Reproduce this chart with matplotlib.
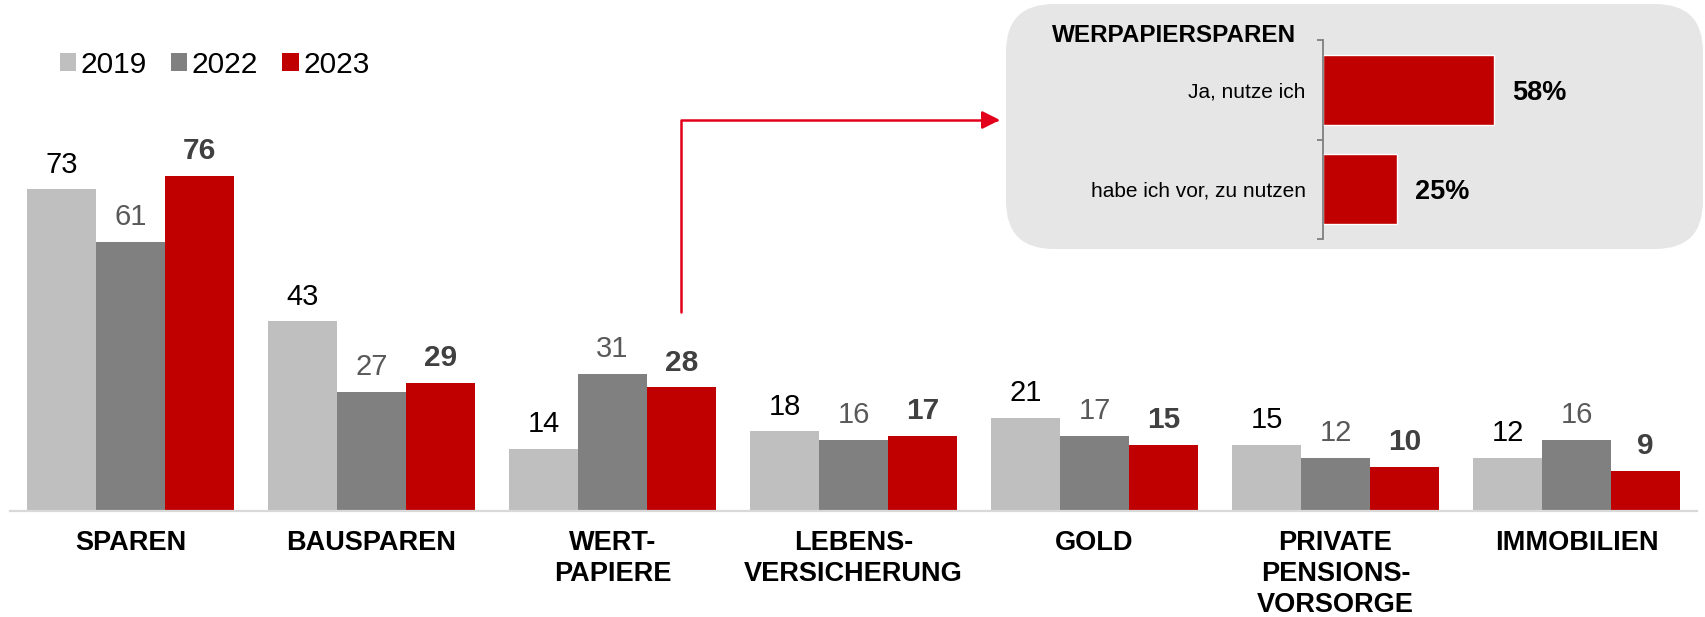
import matplotlib
matplotlib.use("Agg")
import matplotlib.pyplot as plt
from matplotlib.patches import FancyBboxPatch
import numpy as np

plt.rcParams['font.family'] = ['Liberation Sans', 'DejaVu Sans']

# ---- data ----
categories = ['SPAREN', 'BAUSPAREN', 'WERT-\nPAPIERE', 'LEBENS-\nVERSICHERUNG',
              'GOLD', 'PRIVATE\nPENSIONS-\nVORSORGE', 'IMMOBILIEN']
years = ['2019', '2022', '2023']
v2019 = [73, 43, 14, 18, 21, 15, 12]
v2022 = [61, 27, 31, 16, 17, 12, 16]
v2023 = [76, 29, 28, 17, 15, 10, 9]

inset_title = 'WERPAPIERSPAREN'
inset_labels = ['Ja, nutze ich', 'habe ich vor, zu nutzen']
inset_values = [58, 25]

# ---- styling ----
W, H = 1706, 617
colors = ['#bfbfbf', '#808080', '#c00000']
label_colors = ['#000000', '#595959', '#404040']
label_weights = ['normal', 'normal', 'bold']
label_sizes = [21, 21, 21.5]
arrow_red = '#e2001a'

fig = plt.figure(figsize=(W / 100, H / 100), dpi=100)


def rect(x0, y0, x1, y1):
    """pixel box (top-left origin) -> figure fraction rect"""
    return [x0 / W, 1 - y1 / H, (x1 - x0) / W, (y1 - y0) / H]


# ---- inset background box ----
bx0, by0, bx1, by1 = 1006, 4, 1703, 249
box = FancyBboxPatch((bx0 / W, 1 - by1 / H), (bx1 - bx0) / W, (by1 - by0) / H,
                     boxstyle='round,pad=0,rounding_size=0.028',
                     transform=fig.transFigure, facecolor='#e6e6e6',
                     edgecolor='none', zorder=-5, mutation_aspect=W / H)
fig.patches.append(box)

# ---- main axes ----
ax = fig.add_axes(rect(10, 70.5, 1697, 510.5))
x = np.arange(len(categories))
bw = 0.286
series = [v2019, v2022, v2023]
bars = []
for i, vals in enumerate(series):
    b = ax.bar(x + (i - 1) * bw, vals, width=bw, color=colors[i],
               label=years[i], zorder=2)
    bars.append(b)
    for xi, v in zip(x + (i - 1) * bw, vals):
        ax.annotate(str(v), (xi, v), xytext=(0, 12), textcoords='offset points',
                    ha='center', va='baseline', fontsize=label_sizes[i],
                    color=label_colors[i], fontweight=label_weights[i])

ax.set_xlim(-0.5, len(categories) - 0.5)
ax.set_ylim(0, 100)
for s in ['top', 'right', 'left']:
    ax.spines[s].set_visible(False)
ax.spines['bottom'].set_color('#d9d9d9')
ax.spines['bottom'].set_linewidth(1.6)
ax.set_yticks([])
ax.set_xticks(x)
ax.set_xticklabels(categories, fontsize=19.5, fontweight='bold', linespacing=1.26)
ax.tick_params(axis='x', length=0, pad=14)
ax.patch.set_alpha(0)

leg = ax.legend(handles=bars, labels=years, ncol=3, frameon=False,
                loc='center left', bbox_to_anchor=(60 / W, 1 - 65 / H),
                bbox_transform=fig.transFigure, fontsize=21.5,
                handlelength=0.55, handleheight=0.55, handletextpad=0.15,
                columnspacing=0.8, borderpad=0, borderaxespad=0)

# arrow from WERTPAPIERE 2023 bar to inset
ax.annotate('', xy=(3.608, 88.75), xytext=(2 + bw, 45.1),
            arrowprops=dict(arrowstyle='-|>,head_length=0.54,head_width=0.27',
                            connectionstyle='angle,angleA=90,angleB=0,rad=0',
                            color=arrow_red, lw=1.8, mutation_scale=20,
                            shrinkA=0, shrinkB=0),
            annotation_clip=False)

fig.text(1052 / W, 1 - 41.7 / H, inset_title, fontsize=17.5, fontweight='bold',
         ha='left', va='baseline')

axi = fig.add_axes(rect(1323, 40, 1618, 239))
axi.patch.set_alpha(0)
yi = np.arange(len(inset_values))
axi.barh(yi, inset_values, height=0.7, color='#c00000', edgecolor='white',
         linewidth=1.0)
axi.set_xlim(0, 100)
axi.set_ylim(len(inset_values) - 0.5, -0.5)
for s in ['top', 'right', 'bottom']:
    axi.spines[s].set_visible(False)
axi.spines['left'].set_color('#7f7f7f')
axi.spines['left'].set_linewidth(1.3)
axi.set_xticks([])
axi.set_yticks(yi)
axi.set_yticklabels(inset_labels, fontsize=15)
axi.tick_params(axis='y', which='major', length=0, pad=12.5)
axi.set_yticks(np.arange(-0.5, len(inset_values)), minor=True)
axi.tick_params(axis='y', which='minor', length=4.3, width=1.3, color='#7f7f7f',
                direction='out')
for yv, v in zip(yi, inset_values):
    axi.annotate(f'{v}%', (v, yv), xytext=(13, -2), textcoords='offset points',
                 ha='left', va='center', fontsize=19.5, fontweight='bold')

fig.savefig('out.png', dpi=100)
